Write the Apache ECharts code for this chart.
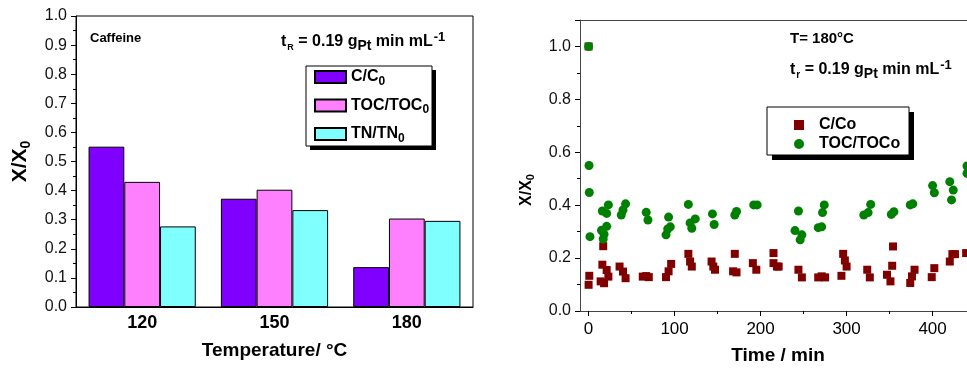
<!DOCTYPE html>
<html><head><meta charset="utf-8">
<script src="https://cdn.jsdelivr.net/npm/echarts@6/dist/echarts.min.js"></script>
<style>html,body{margin:0;padding:0;background:#fff;overflow:hidden}#c{width:967px;height:368px}</style>
</head><body><div id="c"></div>
<script>
// ---- Left chart data ----
const temps = ['120', '150', '180'];
const cRatio = [0.551, 0.372, 0.137];
const tocRatio = [0.430, 0.403, 0.304];
const tnRatio = [0.277, 0.333, 0.296];

// ---- Right chart data: [time (min), X/X0] ----
const cCo = [
  [0, 1.0], [0.8, 0.133], [0, 0.099],
  [17, 0.245], [16, 0.175], [21, 0.155], [23, 0.13], [18, 0.105], [14, 0.112],
  [36, 0.168], [40, 0.149], [43, 0.124],
  [63, 0.13], [67, 0.132], [70, 0.128],
  [90, 0.128], [93, 0.15], [96, 0.178],
  [116, 0.216], [118, 0.187], [120, 0.168],
  [143, 0.187], [145, 0.168], [147, 0.156],
  [170, 0.216], [168, 0.15], [172, 0.146],
  [191, 0.181], [195, 0.156],
  [215, 0.219], [215, 0.181], [219, 0.168], [221, 0.168],
  [244, 0.156], [248, 0.127],
  [267, 0.127], [271, 0.131], [275, 0.127],
  [296, 0.216], [298, 0.191], [300, 0.168], [294, 0.133],
  [324, 0.156], [327, 0.127],
  [347, 0.137], [351, 0.112], [353, 0.171], [354, 0.244],
  [374, 0.106], [376, 0.131], [379, 0.156],
  [399, 0.128], [402, 0.162],
  [420, 0.187], [423, 0.215], [426, 0.215], [439, 0.219]
];
const tocToco = [
  [0, 1.0], [0.5, 0.550], [0.8, 0.448], [1.6, 0.281],
  [16, 0.378], [23, 0.401], [21, 0.369],
  [15, 0.305], [21, 0.32], [17, 0.272], [18, 0.29],
  [43, 0.405], [38, 0.363], [40, 0.382],
  [67, 0.373], [69, 0.344],
  [90, 0.288], [93, 0.355], [95, 0.318], [92, 0.31],
  [116, 0.403], [118, 0.333], [124, 0.348], [120, 0.313],
  [144, 0.367], [146, 0.327],
  [170, 0.363], [172, 0.376],
  [192, 0.401], [196, 0.401],
  [244, 0.378], [240, 0.304], [248, 0.288], [246, 0.269],
  [267, 0.315], [271, 0.318], [272, 0.372], [274, 0.401],
  [320, 0.363], [325, 0.372], [328, 0.403],
  [352, 0.365], [355, 0.375],
  [374, 0.401], [377, 0.405],
  [400, 0.474], [402, 0.447],
  [420, 0.489], [424, 0.457], [422, 0.42],
  [440, 0.548], [440, 0.52]
];
const rightXTicks = [0, 100, 200, 300, 400];
const rightXMinor = [50, 150, 250, 350];

const F = 'Arial, "Liberation Sans", sans-serif';
const subRich = {
  n: {fontFamily: F, fontWeight: 'bold', fontSize: 16, color: '#000'},
  s: {fontFamily: F, fontWeight: 'bold', fontSize: 12, color: '#000', padding: [9, 0, 0, 0]}
};

const chart = echarts.init(document.getElementById('c'), null, {renderer: 'canvas'});
chart.setOption({
  animation: false,
  backgroundColor: '#fff',
  grid: [
    {left: 76, top: 16, width: 397, height: 291, show: true, borderColor: '#000', borderWidth: 1, backgroundColor: 'transparent'},
    {left: 580, top: 20, width: 387, height: 291, show: false}
  ],
  xAxis: [
    {gridIndex: 0, type: 'category', data: temps, boundaryGap: true,
      axisLine: {lineStyle: {color: '#000'}}, axisTick: {show: false},
      axisLabel: {color: '#000', fontFamily: F, fontWeight: 'bold', fontSize: 18, margin: 7},
      name: 'Temperature/ °C', nameLocation: 'middle', nameGap: 34,
      nameTextStyle: {color: '#000', fontFamily: F, fontWeight: 'bold', fontSize: 19}},
    {gridIndex: 1, type: 'value', min: -10, max: 440,
      axisLine: {onZero: false, lineStyle: {color: '#444'}},
      axisTick: {show: true, inside: false, length: 5, customValues: rightXTicks, lineStyle: {color: '#000'}},
      axisLabel: {customValues: rightXTicks, color: '#000', fontFamily: F, fontSize: 17, margin: 10},
      splitLine: {show: false}},
    {gridIndex: 1, type: 'value', min: -10, max: 440, position: 'bottom',
      axisLine: {show: false},
      axisTick: {show: true, length: 3, customValues: rightXMinor, lineStyle: {color: '#000'}},
      axisLabel: {show: false, customValues: rightXMinor},
      splitLine: {show: false}},
    {gridIndex: 1, type: 'value', min: -10, max: 440, position: 'top',
      axisLine: {show: true, onZero: false, lineStyle: {color: '#444'}},
      axisTick: {show: false}, axisLabel: {show: false}, splitLine: {show: false}}
  ],
  yAxis: [
    {gridIndex: 0, type: 'value', min: 0, max: 1, interval: 0.1,
      axisLine: {show: true, lineStyle: {color: '#000'}},
      axisTick: {show: true, length: 5, lineStyle: {color: '#000'}},
      minorTick: {show: true, splitNumber: 2, length: 3, lineStyle: {color: '#000'}},
      axisLabel: {color: '#111', fontFamily: F, fontSize: 16, margin: 9, formatter: v => v.toFixed(1)},
      splitLine: {show: false},
      name: '{b|X/X}{s|0}', nameLocation: 'middle', nameGap: 43,
      nameTextStyle: {rich: {
        b: {fontFamily: F, fontWeight: 'bold', fontSize: 21, color: '#000'},
        s: {fontFamily: F, fontWeight: 'bold', fontSize: 14, color: '#000', padding: [12, 0, 0, 0]}}}},
    {gridIndex: 1, type: 'value', min: 0, max: 1.1, interval: 0.2,
      axisLine: {show: true, onZero: false, lineStyle: {color: '#444'}},
      axisTick: {show: true, length: 5, lineStyle: {color: '#000'}},
      minorTick: {show: true, splitNumber: 2, length: 3, lineStyle: {color: '#000'}},
      axisLabel: {color: '#111', fontFamily: F, fontSize: 16, margin: 9,
        formatter: v => (Math.abs(v * 5 - Math.round(v * 5)) < 1e-6 ? v.toFixed(1) : '')},
      splitLine: {show: false}}
  ],
  legend: [
    {orient: 'vertical', left: 309, top: 64, itemWidth: 31, itemHeight: 12, itemGap: 10, icon: 'rect',
      data: ['C/C0', 'TOC/TOC0', 'TN/TN0'], z: 6,
      formatter: n => n.replace(/^(.*)0$/, '{n|$1}{s|0}'),
      textStyle: {rich: subRich, fontFamily: F, fontWeight: 'bold', fontSize: 16, color: '#000'}},
    {orient: 'vertical', left: 789, top: 112, itemWidth: 10, itemHeight: 10, itemGap: 3,
      data: ['C/Co', 'TOC/TOCo'], z: 6,
      formatter: n => '{n|' + n + '}',
      textStyle: {fontFamily: F, fontWeight: 'bold', fontSize: 16, color: '#000',
        rich: {n: {fontFamily: F, fontWeight: 'bold', fontSize: 16, color: '#000', padding: [0, 0, 0, 10]}}}}
  ],
  graphic: {
    elements: [
      {type: 'rect', z: 3, shape: {x: 310, y: 70, width: 126, height: 80}, style: {fill: '#000'}},
      {type: 'rect', z: 3, shape: {x: 306, y: 66, width: 126, height: 80}, style: {fill: '#fff', stroke: '#000', lineWidth: 1}},
      {type: 'rect', z: 3, shape: {x: 772, y: 112, width: 142, height: 48}, style: {fill: '#000'}},
      {type: 'rect', z: 3, shape: {x: 767, y: 107, width: 142, height: 48}, style: {fill: '#fff', stroke: '#000', lineWidth: 1}},
      {type: 'text', z: 3, x: 90, y: 38, style: {text: 'Caffeine', fontFamily: F, fontWeight: 'bold', fontSize: 13, fill: '#000', verticalAlign: 'middle'}},
      {type: 'text', z: 3, x: 281, y: 42, style: {
        text: '{n|t}{r|R}{n| = 0.19 g}{s|Pt}{n| min mL}{p|-1}', verticalAlign: 'middle',
        rich: {
          n: {fontFamily: F, fontWeight: 'bold', fontSize: 16, fill: '#000'},
          r: {fontFamily: F, fontWeight: 'bold', fontSize: 9, fill: '#000', padding: [12, 0, 0, 1]},
          s: {fontFamily: F, fontWeight: 'bold', fontSize: 14, fill: '#000', padding: [9, 0, 0, 0]},
          p: {fontFamily: F, fontWeight: 'bold', fontSize: 13, fill: '#000', padding: [0, 0, 10, 1]}
        }}},
      {type: 'text', z: 3, x: 790, y: 39, style: {text: 'T= 180°C', fontFamily: F, fontWeight: 'bold', fontSize: 15, fill: '#000', verticalAlign: 'middle'}},
      {type: 'text', z: 3, x: 790, y: 70, style: {
        text: '{n|t}{r|r}{n| = 0.19 g}{s|Pt}{n| min mL}{p|-1}', verticalAlign: 'middle',
        rich: {
          n: {fontFamily: F, fontWeight: 'bold', fontSize: 16, fill: '#000'},
          r: {fontFamily: F, fontWeight: 'bold', fontSize: 10, fill: '#000', padding: [11, 0, 0, 1]},
          s: {fontFamily: F, fontWeight: 'bold', fontSize: 14, fill: '#000', padding: [9, 0, 0, 0]},
          p: {fontFamily: F, fontWeight: 'bold', fontSize: 13, fill: '#000', padding: [0, 0, 10, 1]}
        }}},
      {type: 'text', z: 3, x: 527, y: 190, rotation: Math.PI / 2, style: {
        text: '{b|X/X}{s|0}', align: 'center', verticalAlign: 'middle',
        rich: {
          b: {fontFamily: F, fontWeight: 'bold', fontSize: 16, fill: '#000'},
          s: {fontFamily: F, fontWeight: 'bold', fontSize: 11, fill: '#000', padding: [8, 0, 0, 0]}
        }}},
      {type: 'text', z: 3, x: 778, y: 356, style: {text: 'Time / min', fontFamily: F, fontWeight: 'bold', fontSize: 19, fill: '#000', align: 'center', verticalAlign: 'middle'}}
    ]
  },
  series: [
    {name: 'C/C0', type: 'bar', xAxisIndex: 0, yAxisIndex: 0, data: cRatio, barGap: '0%', barCategoryGap: '19%',
      itemStyle: {color: '#8000FF', borderColor: '#000', borderWidth: 1}},
    {name: 'TOC/TOC0', type: 'bar', xAxisIndex: 0, yAxisIndex: 0, data: tocRatio, barGap: '0%', barCategoryGap: '19%',
      itemStyle: {color: '#FF80FF', borderColor: '#000', borderWidth: 1}},
    {name: 'TN/TN0', type: 'bar', xAxisIndex: 0, yAxisIndex: 0, data: tnRatio, barGap: '0%', barCategoryGap: '19%',
      itemStyle: {color: '#80FFFF', borderColor: '#000', borderWidth: 1}},
    {name: 'C/Co', type: 'scatter', xAxisIndex: 1, yAxisIndex: 1, data: cCo, symbol: 'rect', symbolSize: 8,
      itemStyle: {color: '#800000', opacity: 1}},
    {name: 'TOC/TOCo', type: 'scatter', xAxisIndex: 1, yAxisIndex: 1, data: tocToco, symbol: 'circle', symbolSize: 9,
      itemStyle: {color: '#008000', opacity: 1}}
  ]
});
</script></body></html>
